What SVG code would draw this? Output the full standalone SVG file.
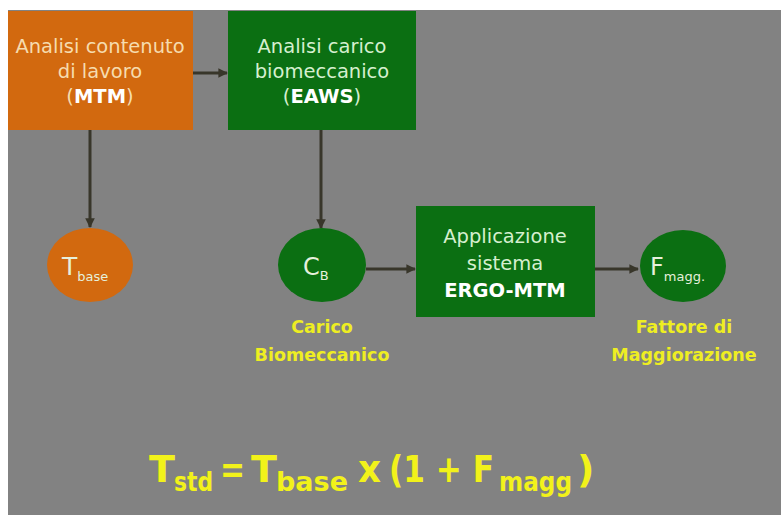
<svg xmlns="http://www.w3.org/2000/svg" width="781" height="515" viewBox="0 0 781 515">
  <style>
    .box-o { fill: #d2690f; }
    .box-g { fill: #0b6f12; }
    .t { font-family: "DejaVu Sans", Verdana, sans-serif; font-size: 19.5px; text-anchor: middle; }
    .to { fill: #f6dcae; }
    .tg { fill: #d6efcf; }
    .b { font-weight: bold; fill: #ffffff; }
    .lbl { font-family: "DejaVu Sans", Verdana, sans-serif; font-size: 17.5px; font-weight: bold; fill: #eeee22; text-anchor: middle; }
    .conn { stroke: #38362a; stroke-width: 3; fill: none; marker-end: url(#ah); }
    .sym { font-family: "DejaVu Sans", Verdana, sans-serif; fill: #e6f0dc; }
    .f { font-family: "DejaVu Sans", Verdana, sans-serif; font-weight: bold; fill: #f2f21a; font-size: 38px; }
    .fs { font-family: "DejaVu Sans", Verdana, sans-serif; font-weight: bold; fill: #f2f21a; font-size: 26px; }
  </style>
  <defs>
    <marker id="ah" viewBox="0 0 10 10" refX="9" refY="5" markerWidth="3.2" markerHeight="3.2" orient="auto">
      <path d="M0,0 L10,5 L0,10 z" fill="#38362a"/>
    </marker>
  </defs>
  <rect x="0" y="0" width="781" height="515" fill="#ffffff"/>
  <rect x="8" y="10" width="773" height="505" fill="#828282"/>

  <g id="connectors">
    <path class="conn" d="M193,73 L227,73"/>
    <path class="conn" d="M90,130 L90,227"/>
    <path class="conn" d="M321,130 L321,228"/>
    <path class="conn" d="M366,269 L415,269"/>
    <path class="conn" d="M595,269 L638,269"/>
  </g>

  <g id="node-mtm">
    <rect class="box-o" x="8" y="11" width="185" height="119"/>
    <text class="t to" x="100" y="53">Analisi contenuto</text>
    <text class="t to" x="100" y="78">di lavoro</text>
    <text class="t to" x="100" y="103">(<tspan class="b">MTM</tspan>)</text>
  </g>

  <g id="node-eaws">
    <rect class="box-g" x="228" y="11" width="188" height="119"/>
    <text class="t tg" x="322" y="53">Analisi carico</text>
    <text class="t tg" x="322" y="78">biomeccanico</text>
    <text class="t tg" x="322" y="103">(<tspan class="b">EAWS</tspan>)</text>
  </g>

  <g id="node-tbase">
    <ellipse cx="90" cy="265" rx="43" ry="37" fill="#d2690f"/>
    <text class="sym" x="62" y="275" font-size="25" fill="#f6dcae">T<tspan font-size="13" dy="6">base</tspan></text>
  </g>

  <g id="node-cb">
    <ellipse cx="322" cy="265" rx="44" ry="37" fill="#0b6f12"/>
    <text class="sym" x="303" y="275" font-size="24">C<tspan font-size="13" dy="5">B</tspan></text>
    <text class="lbl" x="322" y="333">Carico</text>
    <text class="lbl" x="322" y="361">Biomeccanico</text>
  </g>

  <g id="node-ergo">
    <rect class="box-g" x="416" y="206" width="179" height="111"/>
    <text class="t tg" x="505" y="243">Applicazione</text>
    <text class="t tg" x="505" y="270">sistema</text>
    <text class="t b" x="505" y="297">ERGO-MTM</text>
  </g>

  <g id="node-fmagg">
    <ellipse cx="683" cy="266" rx="43" ry="36" fill="#0b6f12"/>
    <text class="sym" x="650" y="275" font-size="24">F<tspan font-size="13" dy="6">magg.</tspan></text>
    <text class="lbl" x="684" y="333">Fattore di</text>
    <text class="lbl" x="684" y="361">Maggiorazione</text>
  </g>

  <g id="formula">
    <text class="f" x="149" y="482">T</text>
    <text class="fs" x="174" y="491" textLength="39" lengthAdjust="spacingAndGlyphs">std</text>
    <text class="f" x="220" y="482" textLength="25" lengthAdjust="spacingAndGlyphs">=</text>
    <text class="f" x="251" y="482">T</text>
    <text class="fs" x="276" y="491" textLength="72" lengthAdjust="spacingAndGlyphs">base</text>
    <text class="f" x="358" y="482" textLength="23" lengthAdjust="spacingAndGlyphs">x</text>
    <text class="f" x="389" y="482" textLength="105" lengthAdjust="spacingAndGlyphs">(1 + F</text>
    <text class="fs" x="499" y="491" textLength="73" lengthAdjust="spacingAndGlyphs">magg</text>
    <text class="f" x="577" y="482">)</text>
  </g>
</svg>
